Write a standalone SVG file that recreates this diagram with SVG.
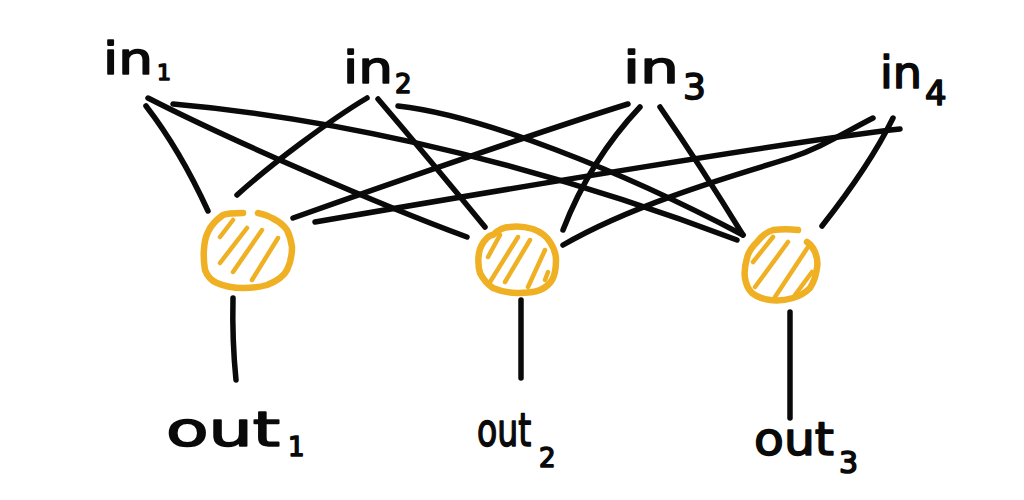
<svg xmlns="http://www.w3.org/2000/svg" width="1024" height="500" viewBox="0 0 1024 500">
<style>
.edge{fill:none;stroke:#0a0a0a;stroke-width:5.5;stroke-linecap:round;stroke-linejoin:round}
.ring{fill:none;stroke:#EFB024;stroke-width:6.5;stroke-linecap:round;stroke-linejoin:round}
.hatch{fill:none;stroke:#EFB024;stroke-width:4.5;stroke-linecap:round}
.lbl{font-family:"DejaVu Sans","Liberation Sans",sans-serif;font-weight:normal;fill:#0a0a0a;stroke:#0a0a0a;stroke-width:1.6;stroke-linejoin:round}
</style>
<rect width="1024" height="500" fill="#ffffff"/>
<g id="connectors">
<path class="edge" d="M146,106 Q180,150 208,211"/>
<path class="edge" d="M148,98 C230,140 380,205 467,237"/>
<path class="edge" d="M173,104 C300,115 500,150 737,240"/>
<path class="edge" d="M367,98 C330,120 270,165 237,195"/>
<path class="edge" d="M378,99 Q430,160 485,227"/>
<path class="edge" d="M398,106 C480,115 620,170 743,235"/>
<path class="edge" d="M628,104 C560,125 400,180 293,218"/>
<path class="edge" d="M640,107 Q590,160 563,230"/>
<path class="edge" d="M660,107 Q700,165 743,235"/>
<path class="edge" d="M900,129 C800,140 500,190 315,222"/>
<path class="edge" d="M873,118 C840,135 820,148 790,158 S640,200 563,245"/>
<path class="edge" d="M893,118 Q870,165 822,226"/>
<path class="edge" d="M233,298 Q232,340 236,380"/>
<path class="edge" d="M521,300 L521,378"/>
<path class="edge" d="M790,312 L790,418"/>
</g>
<g id="node1">
<path class="ring" d="M243,213 C235,213 228,213 223,215 C216,220 211,225 208,232 C203,242 203,258 205,270 C208,278 212,281 217,283 C226,287 235,288 243,288 C252,288 260,287 267,285 C277,281 284,276 287,270 C291,262 292,255 292,247 C291,240 289,234 287,230 C283,224 278,221 272,218 C267,215 262,214 258,213"/>
<path class="hatch" d="M220,237 L233,220 M220,263 L247,228 M233,272 L262,230 M252,280 L278,238"/>
</g>
<g id="node2">
<path class="ring" d="M493,235 C498,230 504,227 510,227 C518,226 526,227 533,229 C541,232 547,237 550,242 C554,248 556,254 556,260 C556,268 555,275 552,280 C549,285 545,288 540,290 C533,293 525,293 517,293 C508,293 500,291 493,288 C487,284 483,279 480,273 C478,266 478,259 479,253 C480,247 483,242 487,238 C489,236 491,235 493,235 Z"/>
<path class="hatch" d="M488,257 L500,235 M490,282 L518,237 M505,282 L530,240 M528,287 L545,250 M545,280 L548,272"/>
</g>
<g id="node3">
<path class="ring" d="M798,230 C790,229 781,229 773,230 C766,232 761,237 757,242 C751,248 748,253 747,258 C745,265 744,272 745,278 C746,285 748,289 752,293 C757,297 763,299 770,300 C778,301 786,300 793,298 C800,296 806,292 810,288 C814,282 816,275 817,268 C818,262 817,257 815,252 C813,247 810,244 807,242"/>
<path class="hatch" d="M753,262 L773,237 M755,287 L788,242 M775,297 L808,247 M795,295 L812,272"/>
</g>
<g id="in1">
<text class="lbl" x="103" y="74" font-size="44" textLength="50" lengthAdjust="spacingAndGlyphs">in</text>
<text class="lbl" x="157" y="80" font-size="22">1</text>
</g>
<g id="in2">
<text class="lbl" x="343" y="83" font-size="44" textLength="50" lengthAdjust="spacingAndGlyphs">in</text>
<text class="lbl" x="395" y="93" font-size="26">2</text>
</g>
<g id="in3">
<text class="lbl" x="623" y="83" font-size="44" textLength="56" lengthAdjust="spacingAndGlyphs">in</text>
<text class="lbl" x="683" y="99" font-size="36">3</text>
</g>
<g id="in4">
<text class="lbl" x="880" y="88" font-size="44" textLength="42" lengthAdjust="spacingAndGlyphs">in</text>
<text class="lbl" x="925" y="105" font-size="34">4</text>
</g>
<g id="out1">
<text class="lbl" x="166" y="446" font-size="48" textLength="114" lengthAdjust="spacingAndGlyphs">out</text>
<text class="lbl" x="288" y="456" font-size="26">1</text>
</g>
<g id="out2">
<text class="lbl" transform="translate(477,446) scale(0.72,1)" x="0" y="0" font-size="46">out</text>
<text class="lbl" x="539" y="467" font-size="26">2</text>
</g>
<g id="out3">
<text class="lbl" x="754" y="455" font-size="46" textLength="80" lengthAdjust="spacingAndGlyphs">out</text>
<text class="lbl" x="839" y="473" font-size="30">3</text>
</g>
</svg>
